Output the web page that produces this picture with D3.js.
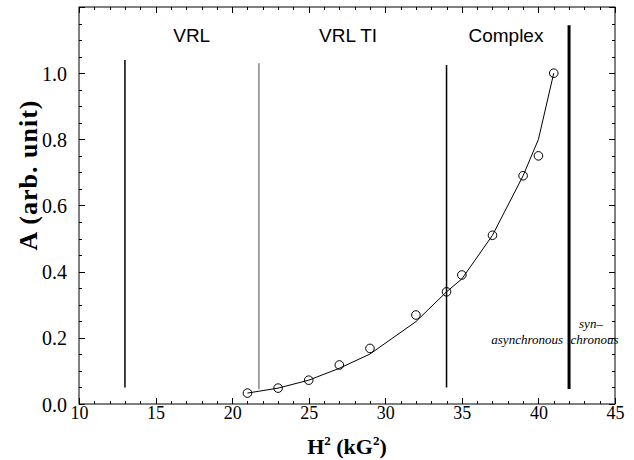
<!DOCTYPE html>
<html><head><meta charset="utf-8">
<script src="https://cdn.jsdelivr.net/npm/d3@7"></script>
<style>html,body{margin:0;padding:0;background:#fff;}svg{display:block;}</style>
</head><body>
<svg id="c" width="634" height="460"></svg>
<script>
// ---- data ----
const fieldSq = [21, 23, 25, 27, 29, 32, 34, 35, 37, 39, 40, 41];
const amplitude = [0.033, 0.048, 0.072, 0.118, 0.168, 0.269, 0.339, 0.39, 0.51, 0.69, 0.75, 1.0];
const fitValues = [0.033, 0.048, 0.072, 0.108, 0.151, 0.249, 0.339, 0.378, 0.51, 0.69, 0.80, 1.0];
const xTicks = [10, 15, 20, 25, 30, 35, 40, 45];
const yTicks = [0.0, 0.2, 0.4, 0.6, 0.8, 1.0];
const boundaryX = [13, 21.75, 34, 42];
const boundaryBottom = [0.05, 0.045, 0.05, 0.045];
const boundaryTop = [1.04, 1.03, 1.025, 1.145];
const boundaryWidth = [1.5, 0.9, 1.5, 3];
const regionNames = ["VRL", "VRL TI", "Complex"];
const regionX = [17.36, 27.57, 37.88];

const svg = d3.select("#c");
const L = 79, R = 615, T = 7, B = 404;
const x = d3.scaleLinear().domain([10, 45]).range([L, R]);
const y = d3.scaleLinear().domain([0, 1.2]).range([B, T]);
const serif = "Liberation Serif, Times New Roman, serif";

// frame
svg.append("rect").attr("x", L).attr("y", T).attr("width", R - L).attr("height", B - T)
  .attr("fill", "none").attr("stroke", "#000").attr("stroke-width", 1);

// ticks (inward, all four sides)
const xMinor = d3.range(10, 45.01, 1);
const yMinor = d3.range(0, 1.2001, 0.05);
const tg = svg.append("g").attr("stroke", "#000").attr("stroke-width", 1);
xMinor.forEach(v => {
  const major = Math.abs(v % 5) < 1e-6;
  const len = major ? 6 : 3;
  const px = Math.round(x(v)) + 0.5;
  tg.append("line").attr("x1", px).attr("x2", px).attr("y1", B).attr("y2", B - len);
  tg.append("line").attr("x1", px).attr("x2", px).attr("y1", T).attr("y2", T + len);
});
yMinor.forEach(v => {
  const major = Math.abs((v / 0.2) - Math.round(v / 0.2)) < 1e-6;
  const len = major ? 6 : 3;
  const py = Math.round(y(v)) + 0.5;
  tg.append("line").attr("x1", L).attr("x2", L + len).attr("y1", py).attr("y2", py);
  tg.append("line").attr("x1", R).attr("x2", R - len).attr("y1", py).attr("y2", py);
});

// tick labels
const xAxis = d3.axisBottom(x).tickValues(xTicks).tickSize(0).tickPadding(0).tickFormat(d3.format("d"));
const gx = svg.append("g").attr("transform", `translate(0,${B})`).call(xAxis);
gx.select(".domain").remove();
gx.selectAll("text").attr("font-family", serif)
  .attr("font-size", 18).attr("fill", "#000").attr("dy", null).attr("y", 15);

const yAxis = d3.axisLeft(y).tickValues(yTicks).tickSize(0).tickPadding(0).tickFormat(d3.format(".1f"));
const gy = svg.append("g").attr("transform", `translate(${L},0)`).call(yAxis);
gy.select(".domain").remove();
gy.selectAll("text").attr("font-family", serif)
  .attr("font-size", 20).attr("fill", "#000").attr("x", -12).attr("dy", "0.35em");

// axis titles
const xt = svg.append("text").attr("x", (L + R) / 2).attr("y", 454).attr("text-anchor", "middle")
  .attr("font-family", serif).attr("font-weight", "bold").attr("font-size", 22);
xt.append("tspan").text("H");
xt.append("tspan").text("2").attr("font-size", 13).attr("dy", -9);
xt.append("tspan").text(" (kG").attr("dy", 9);
xt.append("tspan").text("2").attr("font-size", 13).attr("dy", -9);
xt.append("tspan").text(")").attr("dy", 9);

svg.append("text").attr("transform", `translate(37,175) rotate(-90)`)
  .attr("text-anchor", "middle")
  .attr("font-family", serif).attr("font-weight", "bold").attr("font-size", 26)
  .attr("letter-spacing", 1)
  .text("A (arb. unit)");

// boundary lines
boundaryX.forEach((bx, i) => {
  svg.append("line").attr("x1", x(bx)).attr("x2", x(bx))
    .attr("y1", y(boundaryBottom[i])).attr("y2", y(boundaryTop[i]))
    .attr("stroke", i === 1 ? "#333" : "#000").attr("stroke-width", boundaryWidth[i]);
});

// region labels
regionNames.forEach((n, i) => {
  svg.append("text").attr("x", x(regionX[i])).attr("y", 42).attr("text-anchor", "middle")
    .attr("font-family", "Liberation Sans, Arial, sans-serif").attr("font-size", 19).attr("fill", "#000").text(n);
});

// fit curve
const line = d3.line().x((d, i) => x(fieldSq[i])).y(d => y(d));
svg.append("path").datum(fitValues).attr("d", line).attr("fill", "none")
  .attr("stroke", "#000").attr("stroke-width", 1);

// data points
svg.append("g").selectAll("circle").data(amplitude).join("circle")
  .attr("cx", (d, i) => x(fieldSq[i])).attr("cy", d => y(d)).attr("r", 4.3)
  .attr("fill", "none").attr("stroke", "#000").attr("stroke-width", 1);

// sync annotations
svg.append("text").attr("x", x(42) - 6).attr("y", 344).attr("text-anchor", "end")
  .attr("font-family", serif).attr("font-style", "italic").attr("font-size", 13).text("asynchronous");
svg.append("text").attr("x", x(42) + 10).attr("y", 328).attr("text-anchor", "start")
  .attr("font-family", serif).attr("font-style", "italic").attr("font-size", 13).text("syn\u2013");
svg.append("text").attr("x", x(42) + 1.5).attr("y", 344).attr("text-anchor", "start")
  .attr("font-family", serif).attr("font-style", "italic").attr("font-size", 13).text("chronous");
</script>
</body></html>
